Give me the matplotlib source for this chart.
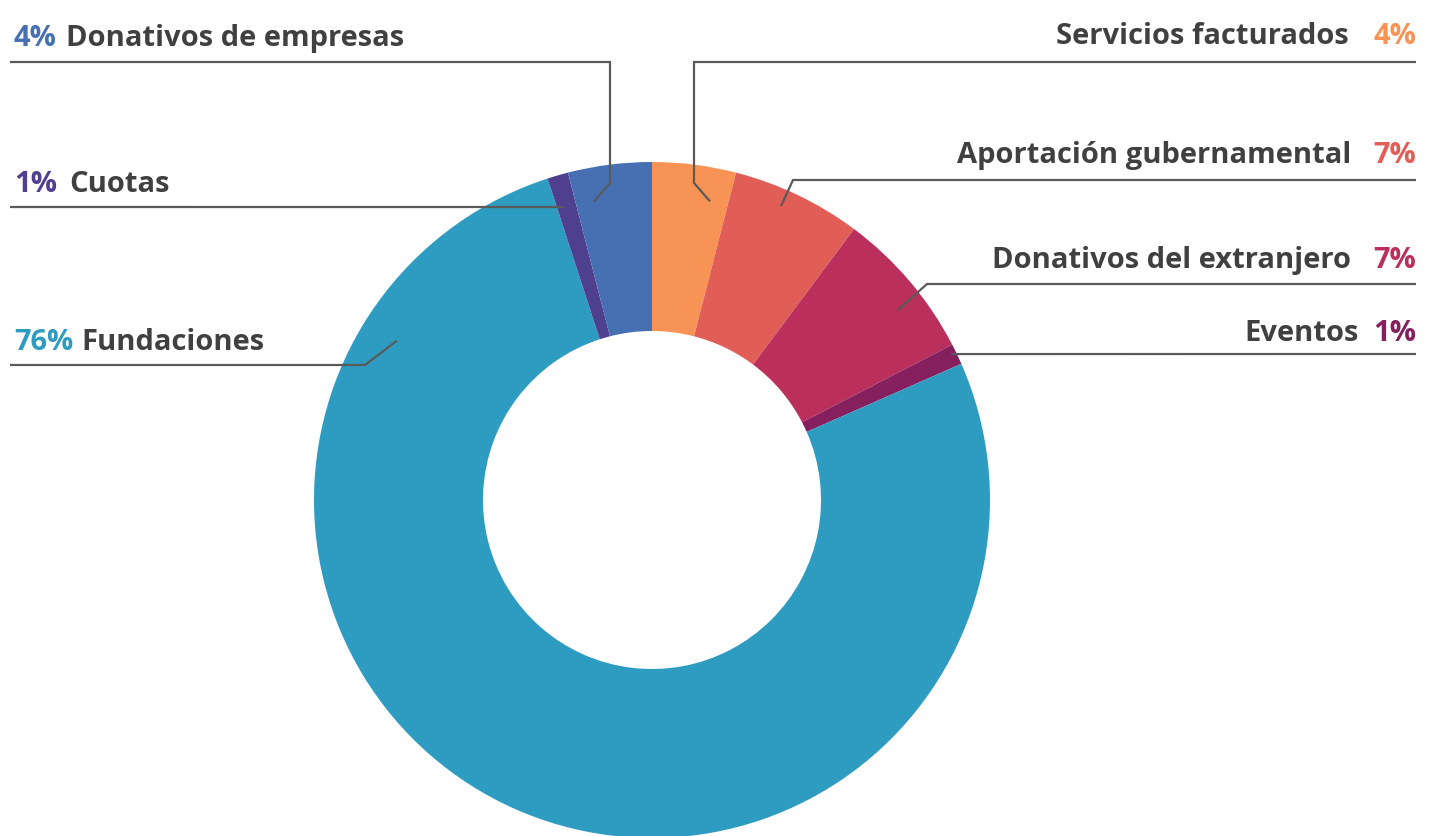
import math
import matplotlib.pyplot as plt

# data, clockwise from 12 o'clock
categories = [
    "Servicios facturados",
    "Aportación gubernamental",
    "Donativos del extranjero",
    "Eventos",
    "Fundaciones",
    "Cuotas",
    "Donativos de empresas",
]
shares = [4.0, 6.2, 7.2, 1.0, 76.6, 1.0, 4.0]
pct_labels = ["4%", "7%", "7%", "1%", "76%", "1%", "4%"]
colors = ["#F79455", "#E05E55", "#BA2F5B", "#861F5E", "#2E9CC0", "#4F3F8F", "#4670B2"]

W, H = 1440, 836
TEXT = "#404040"
LINE = "#5a5a5a"

plt.rcParams["font.family"] = ["Open Sans", "DejaVu Sans"]

fig = plt.figure(figsize=(W / 100, H / 100), dpi=100)
ax = fig.add_axes([0, 0, 1, 1])

# donut geometry in pixels (y measured from top)
cx, cy, R = 652, 500, 338
ax.pie(
    shares,
    colors=colors,
    startangle=90,
    counterclock=False,
    radius=R,
    center=(cx, H - cy),
    wedgeprops=dict(width=R * 0.5, linewidth=0),
    frame=True,
)
ax.set_xlim(0, W)
ax.set_ylim(0, H)
ax.set_aspect("auto")
ax.axis("off")

# label layout: side, baseline (px from top), gap pct<->name, leader points, anchor on ring
layout = {
    "Servicios facturados": dict(side="right", base=44, gap=24,
                                 via=[(1416, 62), (694, 62), (694, 183)], anchor=(11, 0.90)),
    "Aportación gubernamental": dict(side="right", base=163, gap=22,
                                     via=[(1416, 180), (793, 180)], anchor=(23.7, 0.95)),
    "Donativos del extranjero": dict(side="right", base=268, gap=22,
                                     via=[(1416, 284), (927, 284)], anchor=(52.3, 0.92)),
    "Eventos": dict(side="right", base=341, gap=14,
                    via=[(1416, 354)], anchor=(64, 0.985)),
    "Fundaciones": dict(side="left", base=350, gap=8,
                        via=[(10, 365), (365, 365)], anchor=(-58, 0.89)),
    "Cuotas": dict(side="left", base=192, gap=12,
                   via=[(10, 207)], anchor=(-16.7, 0.905)),
    "Donativos de empresas": dict(side="left", base=46, gap=9,
                                  via=[(10, 62), (610, 62), (610, 183)], anchor=(-11, 0.90)),
}

fs = 21
renderer = fig.canvas.get_renderer()

for name, pct, col in zip(categories, pct_labels, colors):
    lay = layout[name]
    y = H - lay["base"]
    if lay["side"] == "left":
        t = ax.text(14, y, pct, color=col, fontsize=fs, fontweight="bold",
                    ha="left", va="baseline")
        x_end = t.get_window_extent(renderer).x1
        ax.text(x_end + lay["gap"], y, name, color=TEXT, fontsize=fs,
                fontweight="bold", ha="left", va="baseline")
    else:
        t = ax.text(1416, y, pct, color=col, fontsize=fs, fontweight="bold",
                    ha="right", va="baseline")
        x_start = t.get_window_extent(renderer).x0
        ax.text(x_start - lay["gap"], y, name, color=TEXT, fontsize=fs,
                fontweight="bold", ha="right", va="baseline")

    # leader line ending on the ring
    ang, rf = lay["anchor"]
    px = cx + rf * R * math.sin(math.radians(ang))
    py = cy - rf * R * math.cos(math.radians(ang))
    pts = lay["via"] + [(px, py)]
    ax.plot([p[0] for p in pts], [H - p[1] for p in pts], color=LINE,
            linewidth=1.6, solid_capstyle="butt", solid_joinstyle="miter")

fig.savefig("out.png", dpi=100, facecolor="white")
